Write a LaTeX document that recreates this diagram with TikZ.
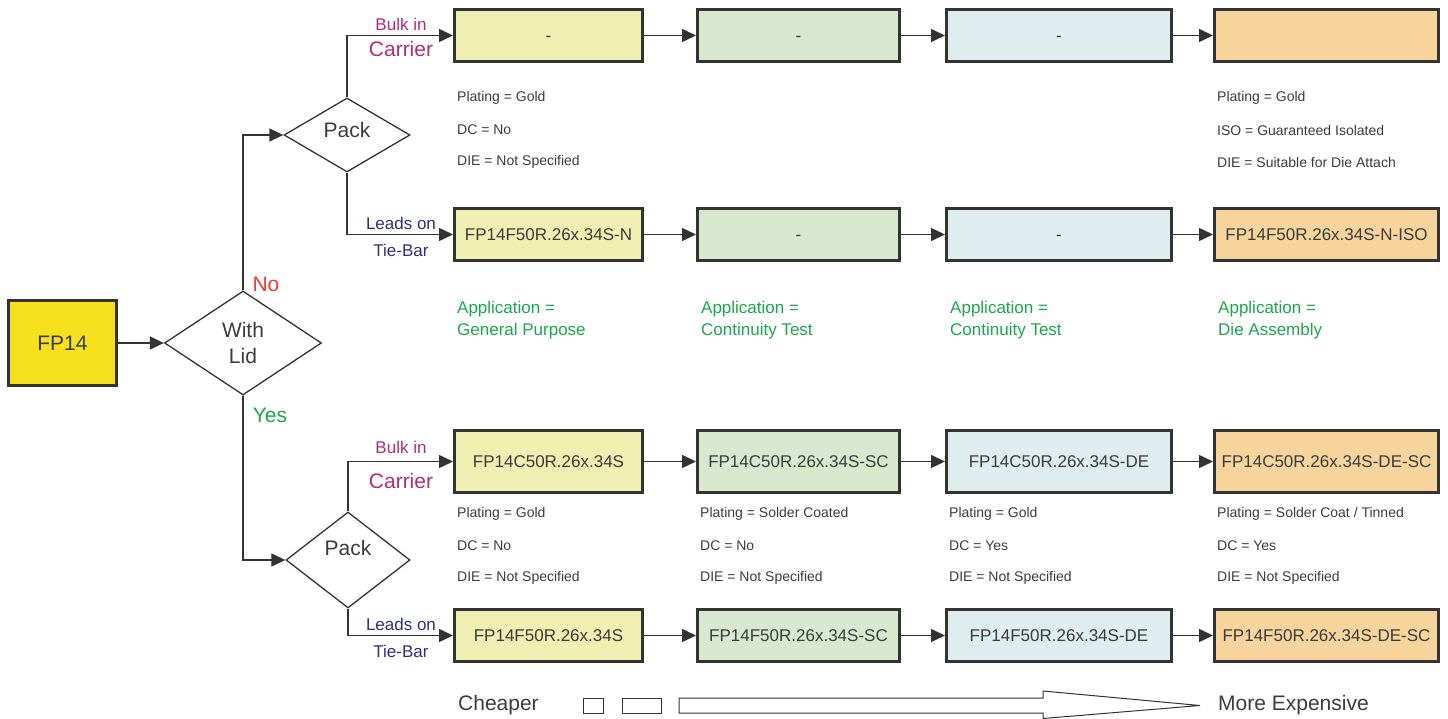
\documentclass[tikz,border=0pt]{standalone}
\usepackage{fontspec}
\setmainfont{Liberation Sans}
\usepackage{xcolor}
\usetikzlibrary{shapes.geometric,arrows.meta}

\definecolor{linegray}{HTML}{333333}
\definecolor{textgray}{HTML}{3C3C3C}
\definecolor{fpyellow}{HTML}{F7E11F}
\definecolor{stepone}{HTML}{EFEFB1}
\definecolor{steptwo}{HTML}{D8E8CF}
\definecolor{stepthree}{HTML}{DEEDED}
\definecolor{stepfour}{HTML}{F7D49B}
\definecolor{appgreen}{HTML}{1BA84B}
\definecolor{nored}{HTML}{EE3B2C}
\definecolor{bulkpink}{HTML}{B52A7D}
\definecolor{leadsblue}{HTML}{2E2F7F}

\newcommand{\bigfont}{\fontsize{21}{26}\selectfont}
\newcommand{\midfont}{\fontsize{17}{22}\selectfont}
\newcommand{\smallfont}{\fontsize{14}{17}\selectfont}

\begin{document}
\begin{tikzpicture}[x=1pt, y=-1pt,
            part/.style={rectangle, draw=linegray, line width=3pt, text=textgray, font=\midfont, minimum height=52pt, inner sep=0pt, text height=12pt, text depth=0pt},
            decision/.style={diamond, draw=linegray, line width=1.3pt, text=textgray, font=\bigfont, align=center, inner sep=0pt, aspect=1.5},
            arrow/.style={draw=linegray, line width=1.5pt, -{Triangle[length=14pt,width=13pt]}},
            note/.style={anchor=west, inner sep=0pt, text=textgray, font=\smallfont},
            appnote/.style={anchor=west, inner sep=0pt, text=appgreen, font=\midfont, align=left},
            branch/.style={inner sep=0pt, font=\midfont}
        ]
            \useasboundingbox (0,0) rectangle (1448,719);

            % Start and decisions
            \node[part, fill=fpyellow, font=\bigfont, minimum width=108pt, minimum height=84pt, text height=15pt] (fp) at (62.5,343) {FP14};
            \node[decision, minimum width=157pt, minimum height=104pt] (lid) at (243,343) {With\\Lid};
            \node[decision, minimum width=126pt, minimum height=74pt, text height=15pt, text depth=10pt] (packtop) at (347,135) {Pack};
            \node[decision, minimum width=124pt, minimum height=96pt, text height=15pt, text depth=24pt] (packbot) at (348,560) {Pack};

            \node[inner sep=0pt, font=\bigfont, text=nored] (no) at (266,284) {No};
            \node[inner sep=0pt, font=\bigfont, text=appgreen] (yes) at (270,415) {Yes};

            % Branch labels
            \node[branch, text=bulkpink] (bulktop) at (401,24) {Bulk in};
            \node[branch, font=\bigfont, text=bulkpink] (carriertop) at (401,49) {Carrier};
            \node[branch, text=leadsblue] (leadstop) at (401,223) {Leads on};
            \node[branch, text=leadsblue] (tietop) at (401,250) {Tie-Bar};
            \node[branch, text=bulkpink] (bulkbot) at (401,447) {Bulk in};
            \node[branch, font=\bigfont, text=bulkpink] (carrierbot) at (401,481) {Carrier};
            \node[branch, text=leadsblue] (leadsbot) at (401,624) {Leads on};
            \node[branch, text=leadsblue] (tiebot) at (401,651) {Tie-Bar};

            % First row
            \node[part, fill=stepone, minimum width=188pt] (a1) at (548.5,35.5) {-};
            \node[part, fill=steptwo, minimum width=202pt] (a2) at (798.5,35.5) {-};
            \node[part, fill=stepthree, minimum width=225pt] (a3) at (1059,35.5) {-};
            \node[part, fill=stepfour, minimum width=224pt] (a4) at (1326.5,35.5) {};

            \node[note] (a1n1) at (457,98) {Plating = Gold};
            \node[note] (a1n2) at (457,130) {DC = No};
            \node[note] (a1n3) at (457,162) {DIE = Not Specified};
            \node[note] (a4n1) at (1217,98) {Plating = Gold};
            \node[note] (a4n2) at (1217,130) {ISO = Guaranteed Isolated};
            \node[note] (a4n3) at (1217,162) {DIE = Suitable for Die Attach};

            % Second row
            \node[part, fill=stepone, minimum width=188pt] (b1) at (548.5,234.5) {FP14F50R.26x.34S-N};
            \node[part, fill=steptwo, minimum width=202pt] (b2) at (798.5,234.5) {-};
            \node[part, fill=stepthree, minimum width=225pt] (b3) at (1059,234.5) {-};
            \node[part, fill=stepfour, minimum width=224pt] (b4) at (1326.5,234.5) {FP14F50R.26x.34S-N-ISO};

            \node[appnote] (b1app) at (457,320) {Application =\\General Purpose};
            \node[appnote] (b2app) at (701,320) {Application =\\Continuity Test};
            \node[appnote] (b3app) at (950,320) {Application =\\Continuity Test};
            \node[appnote] (b4app) at (1218,320) {Application =\\Die Assembly};

            % Third row
            \node[part, fill=stepone, minimum width=188pt, minimum height=62pt] (c1) at (548.5,461.5) {FP14C50R.26x.34S};
            \node[part, fill=steptwo, minimum width=202pt, minimum height=62pt] (c2) at (798.5,461.5) {FP14C50R.26x.34S-SC};
            \node[part, fill=stepthree, minimum width=225pt, minimum height=62pt] (c3) at (1059,461.5) {FP14C50R.26x.34S-DE};
            \node[part, fill=stepfour, minimum width=224pt, minimum height=62pt] (c4) at (1326.5,461.5) {FP14C50R.26x.34S-DE-SC};

            \node[note] (c1n1) at (457,514) {Plating = Gold};
            \node[note] (c1n2) at (457,546) {DC = No};
            \node[note] (c1n3) at (457,578) {DIE = Not Specified};
            \node[note] (c2n1) at (700,514) {Plating = Solder Coated};
            \node[note] (c2n2) at (700,546) {DC = No};
            \node[note] (c2n3) at (700,578) {DIE = Not Specified};
            \node[note] (c3n1) at (949,514) {Plating = Gold};
            \node[note] (c3n2) at (949,546) {DC = Yes};
            \node[note] (c3n3) at (949,578) {DIE = Not Specified};
            \node[note] (c4n1) at (1217,514) {Plating = Solder Coat / Tinned};
            \node[note] (c4n2) at (1217,546) {DC = Yes};
            \node[note] (c4n3) at (1217,578) {DIE = Not Specified};

            % Fourth row
            \node[part, fill=stepone, minimum width=188pt] (d1) at (548.5,635.5) {FP14F50R.26x.34S};
            \node[part, fill=steptwo, minimum width=202pt] (d2) at (798.5,635.5) {FP14F50R.26x.34S-SC};
            \node[part, fill=stepthree, minimum width=225pt] (d3) at (1059,635.5) {FP14F50R.26x.34S-DE};
            \node[part, fill=stepfour, minimum width=224pt] (d4) at (1326.5,635.5) {FP14F50R.26x.34S-DE-SC};

            % Arrows
            \draw[arrow] (fp) -- (lid);
            \draw[arrow] (lid.north) |- (packtop.west);
            \draw[arrow] (lid.south) |- (packbot.west);
            \draw[arrow] (packtop.north) |- (a1.west);
            \draw[arrow] (packtop.south) |- (b1.west);
            \draw[arrow] (packbot.north) |- (c1.west);
            \draw[arrow] (packbot.south) |- (d1.west);
            \draw[arrow] (a1) -- (a2);
            \draw[arrow] (a2) -- (a3);
            \draw[arrow] (a3) -- (a4);
            \draw[arrow] (b1) -- (b2);
            \draw[arrow] (b2) -- (b3);
            \draw[arrow] (b3) -- (b4);
            \draw[arrow] (c1) -- (c2);
            \draw[arrow] (c2) -- (c3);
            \draw[arrow] (c3) -- (c4);
            \draw[arrow] (d1) -- (d2);
            \draw[arrow] (d2) -- (d3);
            \draw[arrow] (d3) -- (d4);

            % Cost scale
            \node[inner sep=0pt, anchor=west, font=\bigfont, text=textgray] (cheap) at (458,705) {Cheaper};
            \node[inner sep=0pt, anchor=west, font=\bigfont, text=textgray] (dear) at (1218,705) {More Expensive};
            \draw[linegray, line width=1pt] (583,698) rectangle (603,713);
            \draw[linegray, line width=1pt] (622,698) rectangle (661,713);
            \draw[linegray, line width=1pt] (679,698) -- (1043,698) -- (1043,691) -- (1200,705.5) -- (1043,718.5) -- (1043,713) -- (679,713) -- cycle;

        \end{tikzpicture}
\end{document}
